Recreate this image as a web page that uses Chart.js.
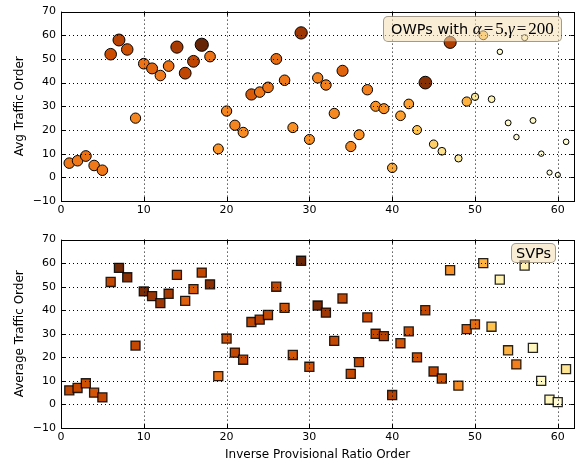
<!DOCTYPE html>
<html>
<head>
<meta charset="utf-8">
<script src="https://cdn.jsdelivr.net/npm/chart.js@4/dist/chart.umd.min.js"></script>
<style>
  body { margin: 0; background: #fff; width: 582px; height: 462px; position: relative; overflow: hidden; font-family: "DejaVu Sans", sans-serif; }
  canvas { position: absolute; left: 0; }
  #topChart { top: 0; }
  #botChart { top: 228px; }
  .tag { position: absolute; background: rgba(245, 222, 179, 0.55); border: 1px solid rgba(0, 0, 0, 0.35); border-radius: 5px; font-size: 14.5px; line-height: 24px; white-space: nowrap; padding: 0 7px; color: #000; }
  .m { font-family: "Liberation Serif", serif; font-size: 17px; }
  .mi { font-style: italic; }
  .eq { padding: 0 2px; }
</style>
</head>
<body>
<canvas id="topChart" width="582" height="222"></canvas>
<canvas id="botChart" width="582" height="234"></canvas>
<div class="tag" style="left:383px;top:16px;">OWPs with <span class="m"><span class="mi">α</span><span class="eq">=</span>5,<span class="mi">γ</span><span class="eq">=</span>200</span></div>
<div class="tag" style="left:511px;top:243px;line-height:18px;padding:0 4px;">SVPs</div>
<script>
// x position of each point (inverse provisional ratio order)
const ratioOrder = [
  1, 2, 3, 4, 5, 6, 7, 8, 9, 10,
  11, 12, 13, 14, 15, 16, 17, 18, 19, 20,
  21, 22, 23, 24, 25, 26, 27, 28, 29, 30,
  31, 32, 33, 34, 35, 36, 37, 38, 39, 40,
  41, 42, 43, 44, 45, 46, 47, 48, 49, 50,
  51, 52, 53, 54, 55, 56, 57, 58, 59, 60, 61,
];
const trafficOrder = [
  6, 7, 9, 5, 3, 52, 58, 54, 25, 48,
  46, 43, 47, 55, 44, 49, 56, 51, 12, 28,
  22, 19, 35, 36, 38, 50, 41, 21, 61, 16,
  42, 39, 27, 45, 13, 18, 37, 30, 29, 4,
  26, 31, 20, 40, 14, 11, 57, 8, 32, 34,
  60, 33, 53, 23, 17, 59, 24, 10, 2, 1, 15,
];
// colour value (0..1) of each OWP circle, also drives circle size
const owpShade = [
  0.60, 0.60, 0.63, 0.60, 0.60, 0.75, 0.80, 0.74, 0.56, 0.62,
  0.66, 0.60, 0.62, 0.84, 0.78, 0.78, 1.00, 0.62, 0.52, 0.56,
  0.56, 0.54, 0.70, 0.60, 0.61, 0.64, 0.60, 0.53, 0.86, 0.53,
  0.57, 0.58, 0.55, 0.67, 0.55, 0.52, 0.58, 0.53, 0.53, 0.45,
  0.48, 0.48, 0.38, 0.92, 0.33, 0.26, 0.82, 0.20, 0.43, 0.20,
  0.38, 0.15, 0.05, 0.08, 0.05, 0.10, 0.08, 0.05, 0.03, 0.03, 0.06,
];
// colour value (0..1) of each SVP square
const svpShade = [
  0.77, 0.77, 0.74, 0.72, 0.77, 0.77, 0.97, 0.92, 0.77, 0.95,
  0.87, 0.86, 0.84, 0.76, 0.68, 0.70, 0.77, 0.91, 0.63, 0.73,
  0.77, 0.77, 0.77, 0.80, 0.77, 0.77, 0.73, 0.72, 0.98, 0.73,
  0.95, 0.86, 0.77, 0.77, 0.76, 0.76, 0.76, 0.77, 0.80, 0.80,
  0.72, 0.73, 0.73, 0.77, 0.77, 0.73, 0.53, 0.55, 0.68, 0.64,
  0.43, 0.38, 0.16, 0.43, 0.58, 0.16, 0.12, 0.10, 0.12, 0.05, 0.24,
];
const xTicks = [0, 10, 20, 30, 40, 50, 60];
const yTicks = [-10, 0, 10, 20, 30, 40, 50, 60, 70];

Chart.defaults.font.family = '"DejaVu Sans", sans-serif';
Chart.defaults.font.size = 11;
Chart.defaults.color = '#000';

// YlOrBr colormap
const ylOrBr = ['#ffffe5', '#fff7bc', '#fee391', '#fec44f', '#fe9929', '#ec7014', '#cc4c02', '#993404', '#662506'];

function shadeColor(t) {
  const pos = Math.max(0, Math.min(1, t)) * (ylOrBr.length - 1);
  const i = Math.min(Math.floor(pos), ylOrBr.length - 2);
  const f = pos - i;
  const a = hexRgb(ylOrBr[i]);
  const b = hexRgb(ylOrBr[i + 1]);
  const c = a.map((v, k) => Math.round(v + (b[k] - v) * f));
  return `rgb(${c[0]},${c[1]},${c[2]})`;
}

function hexRgb(h) {
  return [1, 3, 5].map(i => parseInt(h.slice(i, i + 2), 16));
}

function points() {
  return ratioOrder.map((x, i) => ({ x, y: trafficOrder[i] }));
}

function owpRadius(ctx) {
  return 2.2 + 4.4 * Math.pow(owpShade[ctx.dataIndex], 0.7);
}

// dotted grid on top of the markers, inward ticks on all sides, solid frame
const frame = {
  id: 'frame',
  afterDatasetsDraw(chart) {
    const { ctx, chartArea: a, scales: { x, y } } = chart;
    ctx.save();
    ctx.strokeStyle = '#000';
    ctx.lineWidth = 1;
    ctx.setLineDash([1, 3]);
    ctx.beginPath();
    for (const v of xTicks) {
      const px = Math.round(x.getPixelForValue(v)) + 0.5;
      if (px <= a.left + 1 || px >= a.right - 1) continue;
      ctx.moveTo(px, a.top);
      ctx.lineTo(px, a.bottom);
    }
    for (const v of yTicks) {
      const py = Math.round(y.getPixelForValue(v)) + 0.5;
      if (py <= a.top + 1 || py >= a.bottom - 1) continue;
      ctx.moveTo(a.left, py);
      ctx.lineTo(a.right, py);
    }
    ctx.stroke();
    ctx.setLineDash([]);
    ctx.beginPath();
    for (const v of xTicks) {
      const px = Math.round(x.getPixelForValue(v)) + 0.5;
      ctx.moveTo(px, a.bottom);
      ctx.lineTo(px, a.bottom - 4);
      ctx.moveTo(px, a.top);
      ctx.lineTo(px, a.top + 4);
    }
    for (const v of yTicks) {
      const py = Math.round(y.getPixelForValue(v)) + 0.5;
      ctx.moveTo(a.left, py);
      ctx.lineTo(a.left + 4, py);
      ctx.moveTo(a.right, py);
      ctx.lineTo(a.right - 4, py);
    }
    ctx.stroke();
    ctx.strokeRect(Math.round(a.left) + 0.5, Math.round(a.top) + 0.5, Math.round(a.width), Math.round(a.height));
    ctx.restore();
  },
};

function axes(yTitle, xTitle, xHeight) {
  return {
    x: {
      type: 'linear', min: 0, max: 62,
      afterBuildTicks: s => { s.ticks = xTicks.map(v => ({ value: v })); },
      afterFit: s => { s.height = xHeight; },
      grid: { display: false, drawTicks: false },
      border: { display: false },
      ticks: { padding: 3, maxRotation: 0, font: { size: 11 } },
      title: xTitle ? { display: true, text: xTitle, font: { size: 12 }, padding: { top: 1, bottom: 0 } } : { display: false },
    },
    y: {
      type: 'linear', min: -10, max: 70,
      afterBuildTicks: s => { s.ticks = yTicks.map(v => ({ value: v })); },
      afterFit: s => { s.width = 61; },
      grid: { display: false, drawTicks: false },
      border: { display: false },
      ticks: { padding: 5, callback: v => String(v).replace('-', '\u2212'), font: { size: 11 } },
      title: { display: true, text: yTitle, font: { size: 12 }, padding: { top: 13, bottom: 4 } },
    },
  };
}

new Chart(document.getElementById('topChart'), {
  type: 'scatter',
  data: {
    datasets: [{
      data: points(),
      pointStyle: 'circle',
      backgroundColor: ctx => shadeColor(owpShade[ctx.dataIndex]),
      borderColor: '#000',
      borderWidth: 1,
      pointRadius: owpRadius,
      pointHoverRadius: owpRadius,
    }],
  },
  options: {
    responsive: false,
    animation: false,
    events: [],
    layout: { padding: { top: 10, right: 5, left: 0, bottom: 0 } },
    plugins: { legend: { display: false }, tooltip: { enabled: false } },
    scales: axes('Avg Traffic Order', null, 21),
  },
  plugins: [frame],
});

new Chart(document.getElementById('botChart'), {
  type: 'scatter',
  data: {
    datasets: [{
      data: points(),
      pointStyle: 'rect',
      backgroundColor: ctx => shadeColor(svpShade[ctx.dataIndex]),
      borderColor: 'rgba(0,0,0,0.85)',
      borderWidth: 1.3,
      pointRadius: 6.4,
      pointHoverRadius: 6.4,
    }],
  },
  options: {
    responsive: false,
    animation: false,
    events: [],
    layout: { padding: { top: 11, right: 5, left: 0, bottom: 0 } },
    plugins: { legend: { display: false }, tooltip: { enabled: false } },
    scales: axes('Average Traffic Order', 'Inverse Provisional Ratio Order', 34),
  },
  plugins: [frame],
});
</script>
</body>
</html>
